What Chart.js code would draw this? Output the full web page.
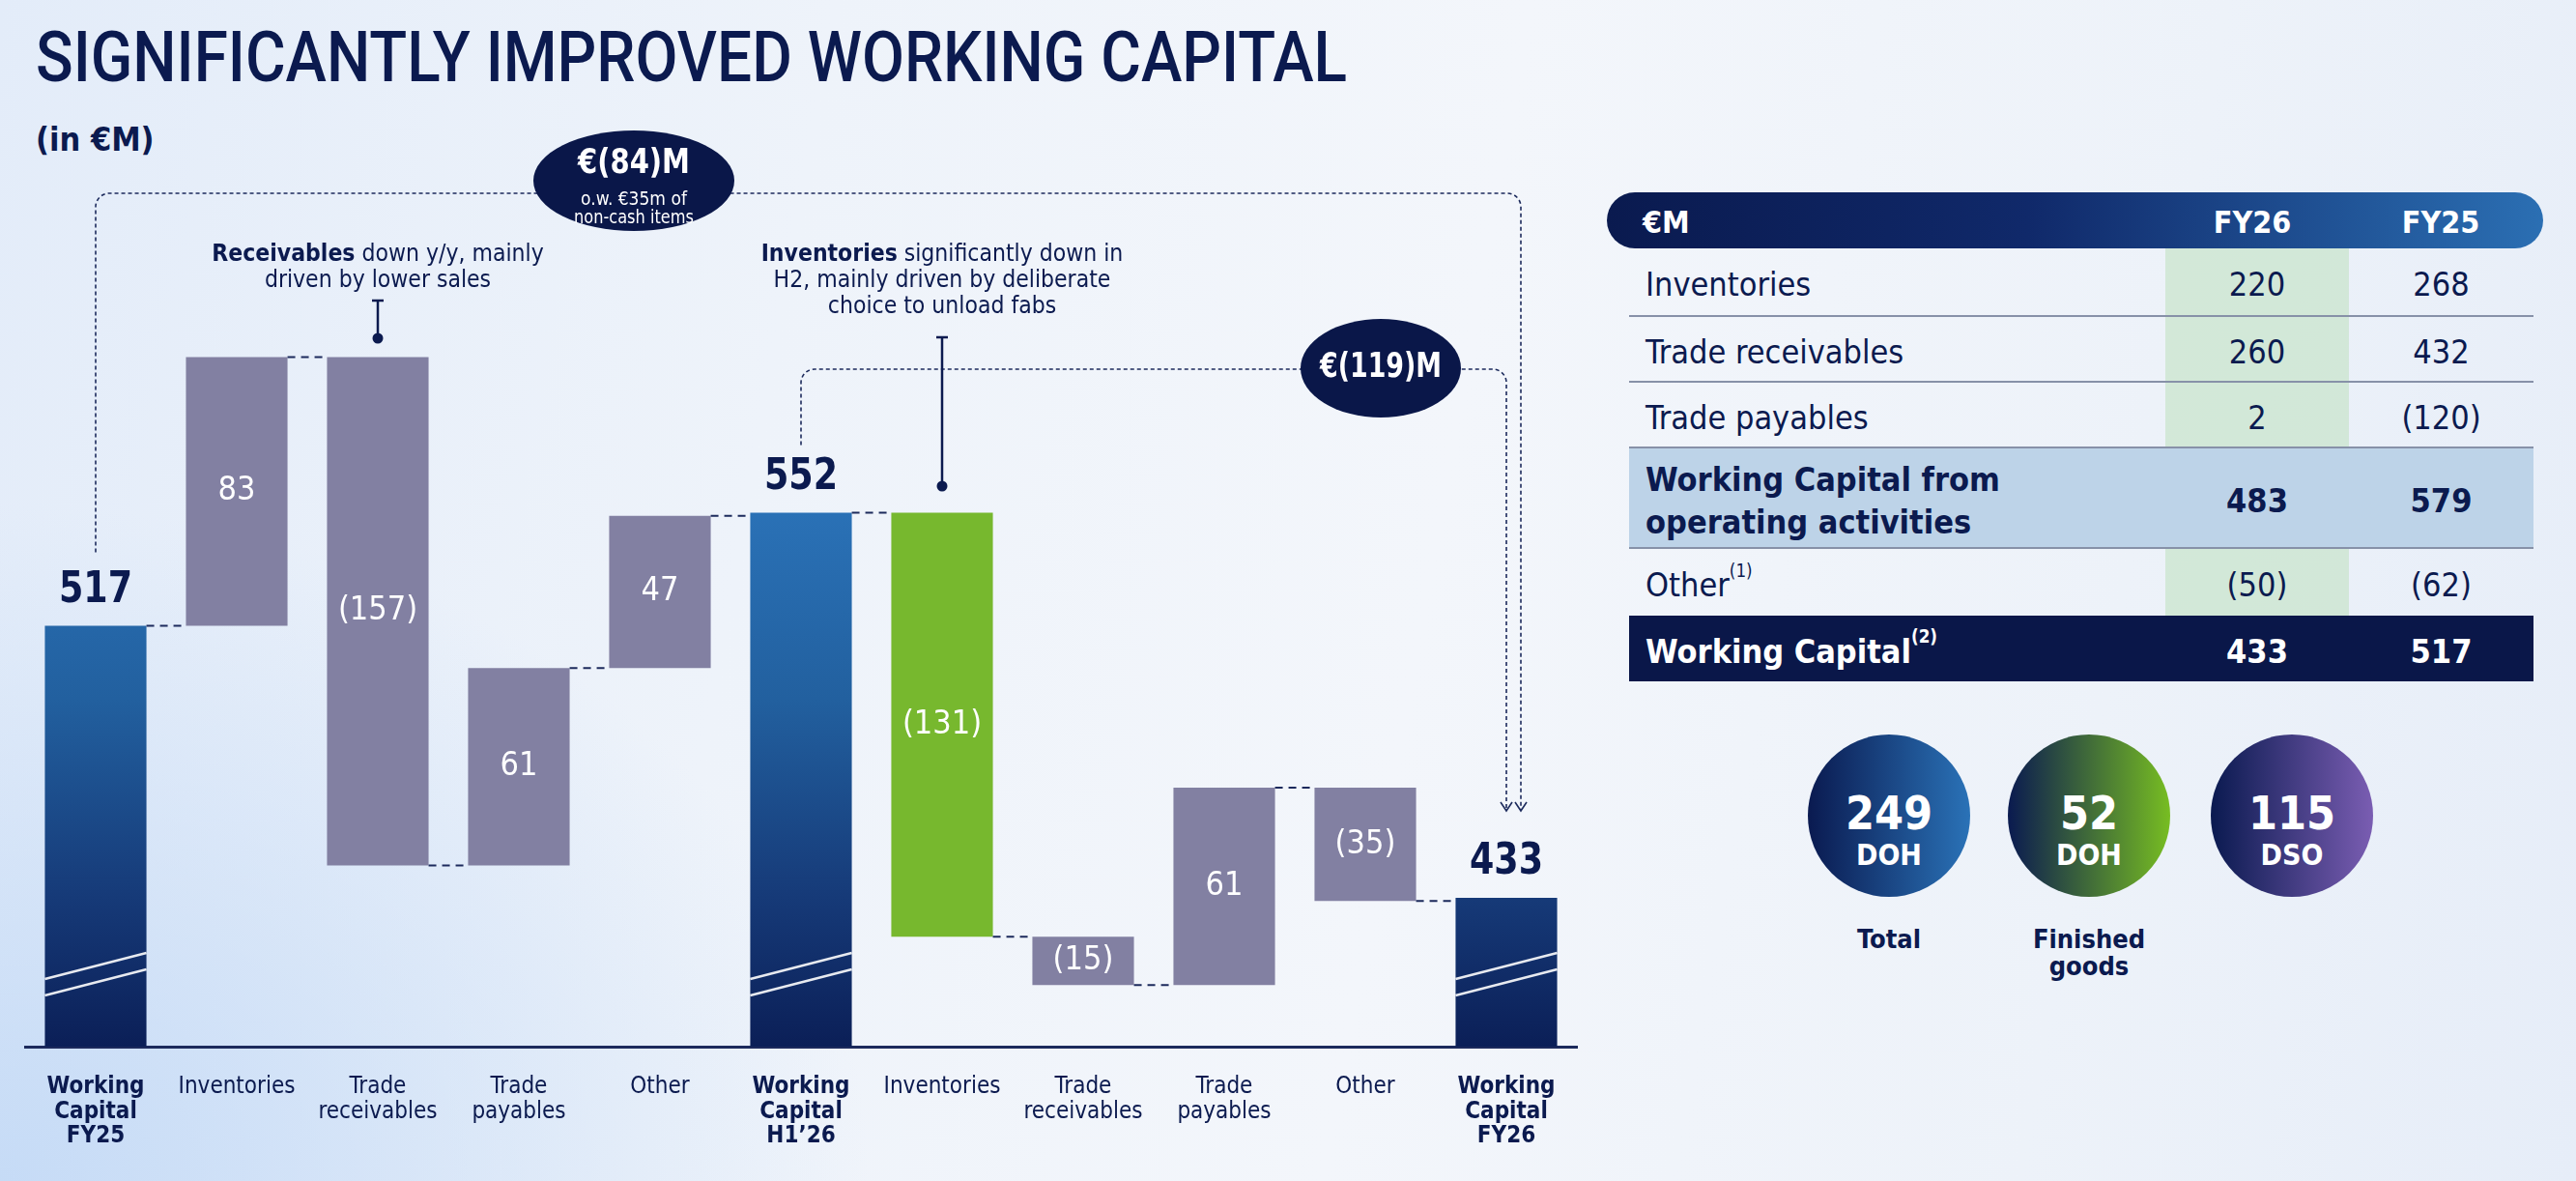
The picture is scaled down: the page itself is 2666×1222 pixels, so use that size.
<!DOCTYPE html>
<html>
<head>
<meta charset="utf-8">
<script src="https://cdn.jsdelivr.net/npm/chart.js@4.4.1/dist/chart.umd.min.js"></script>
<style>
  html, body { margin: 0; padding: 0; }
  body {
    width: 2666px; height: 1222px; overflow: hidden; position: relative;
    font-family: 'DejaVu Sans Condensed', 'DejaVu Sans', sans-serif;
    color: #0b1a4f;
    background:
      radial-gradient(ellipse 900px 700px at 0% 100%, rgba(196,218,246,0.95) 0%, rgba(196,218,246,0) 100%),
      linear-gradient(100deg, #e3ecf9 0%, #eef3fa 30%, #f3f6fb 55%, #edf2f9 80%, #e6edf8 100%);
  }
  #title { position: absolute; left: 37px; top: 24px; font-family: Roboto, sans-serif; font-weight: 500; font-size: 72px; line-height: 72px; white-space: nowrap; transform-origin: 0 0; }
  #subtitle { position: absolute; left: 37px; top: 127px; font-size: 34px; line-height: 34px; font-weight: bold; }
  #chart { position: absolute; left: 0; top: 0; }
  #thead { position: absolute; left: 1663px; top: 199px; width: 969px; height: 58px; border-radius: 29px;
    background: linear-gradient(90deg, #0a1a4f 0%, #10296a 45%, #2b6fb3 100%); color: #fff; }
  #thead div { position: absolute; top: 2px; line-height: 58px; font-size: 32px; font-weight: bold; }
  #tbody { position: absolute; left: 1686px; top: 257px; width: 936px; }
  .row { position: relative; width: 936px; box-sizing: border-box; }
  .row .lab { position: absolute; left: 17px; top: 0; bottom: 0; padding-top: 5px; display: flex; align-items: center; font-size: 34px; line-height: 44px; }
  .row .v { position: absolute; top: 0; bottom: 0; padding-top: 5px; box-sizing: border-box; display: flex; align-items: center; justify-content: center; font-size: 34px; }
  .row sup { font-size: 0.55em; vertical-align: 0; position: relative; top: -0.75em; }
  .kpi { position: absolute; width: 168px; height: 168px; border-radius: 50%; color: #fff; text-align: center; font-weight: bold; }
  .kpi .n { position: absolute; left: 0; right: 0; top: 81px; font-size: 48px; line-height: 48px; transform: translateY(-50%); }
  .kpi .u { position: absolute; left: 0; right: 0; top: 110px; font-size: 30px; line-height: 30px; }
  .kpil { position: absolute; width: 200px; text-align: center; font-weight: bold; font-size: 27px; line-height: 28px; }
</style>
</head>
<body>
<div id="title">SIGNIFICANTLY IMPROVED WORKING CAPITAL</div>
<div id="subtitle">(in €M)</div>
<canvas id="chart" width="1660" height="1222"></canvas>
<div id="thead"></div>
<div id="tbody"></div>
<div id="kpis"></div>
<script>
// ---- data ----
var categories = [
  ['Working', 'Capital', 'FY25'], 'Inventories', ['Trade', 'receivables'], ['Trade', 'payables'], 'Other',
  ['Working', 'Capital', 'H1’26'], 'Inventories', ['Trade', 'receivables'], ['Trade', 'payables'], 'Other',
  ['Working', 'Capital', 'FY26']
];
var isTotal = [true, false, false, false, false, true, false, false, false, false, true];
var values = [517, 83, -157, 61, 47, 552, -131, -15, 61, -35, 433];
var axisMin = 387;
var axisMax = 702;

var tableHeader = ['€M', 'FY26', 'FY25'];
var tableRows = ['Inventories', 'Trade receivables', 'Trade payables', 'Working Capital from<br>operating activities', 'Other<sup>(1)</sup>', 'Working Capital<sup>(2)</sup>'];
var fy26 = ['220', '260', '2', '483', '(50)', '433'];
var fy25 = ['268', '432', '(120)', '579', '(62)', '517'];

var kpiValues = ['249', '52', '115'];
var kpiUnits = ['DOH', 'DOH', 'DSO'];
var kpiLabels = ['Total', 'Finished<br>goods', ''];

// ---- styles ----
var FONT = "'DejaVu Sans Condensed', 'DejaVu Sans', sans-serif";
var NAVY = '#0b1a4f';
var GREY = '#8280a2';
var GREEN = '#77b82e';

// floating ranges for the waterfall
var ranges = [];
var running = 0;
values.forEach(function(v, i) {
  if (isTotal[i]) { ranges.push([axisMin, v]); running = v; }
  else { ranges.push([running, running + v]); running += v; }
});
function fmt(v) { return v < 0 ? '(' + (-v) + ')' : String(v); }

function totalGradient(c) {
  var chart = c.chart, area = chart.chartArea;
  if (!area) return NAVY;
  var top = chart.scales.y.getPixelForValue(Math.max.apply(null, values.filter(function(v, i) { return isTotal[i]; })));
  var g = chart.ctx.createLinearGradient(0, top, 0, area.bottom);
  g.addColorStop(0, '#2a71b6');
  g.addColorStop(0.35, '#22609f');
  g.addColorStop(0.72, '#163a78');
  g.addColorStop(1, '#0b1f57');
  return g;
}

function bracket(ctx, x1, yStart, yTop, x2, yEnd, r) {
  ctx.save();
  ctx.strokeStyle = '#1c2a5c';
  ctx.lineWidth = 1.6;
  ctx.setLineDash([4, 3]);
  ctx.beginPath();
  ctx.moveTo(x1, yStart);
  ctx.lineTo(x1, yTop + r);
  ctx.arcTo(x1, yTop, x1 + r, yTop, r);
  ctx.lineTo(x2 - r, yTop);
  ctx.arcTo(x2, yTop, x2, yTop + r, r);
  ctx.lineTo(x2, yEnd);
  ctx.stroke();
  ctx.setLineDash([]);
  ctx.beginPath();
  ctx.moveTo(x2 - 6, yEnd - 9); ctx.lineTo(x2, yEnd); ctx.lineTo(x2 + 6, yEnd - 9);
  ctx.stroke();
  ctx.restore();
}

function mixedLine(ctx, parts, cx, cy, size) {
  var widths = parts.map(function(p) {
    ctx.font = (p[1] ? 'bold ' : '') + size + 'px ' + FONT;
    return ctx.measureText(p[0]).width;
  });
  var x = cx - widths.reduce(function(a, b) { return a + b; }, 0) / 2;
  parts.forEach(function(p, k) {
    ctx.font = (p[1] ? 'bold ' : '') + size + 'px ' + FONT;
    ctx.fillText(p[0], x, cy);
    x += widths[k];
  });
}

function pin(ctx, x, y1, y2) {
  ctx.save();
  ctx.strokeStyle = NAVY; ctx.fillStyle = NAVY; ctx.lineWidth = 2.5;
  ctx.beginPath(); ctx.moveTo(x, y1); ctx.lineTo(x, y2); ctx.stroke();
  ctx.beginPath(); ctx.moveTo(x - 6, y1); ctx.lineTo(x + 6, y1); ctx.stroke();
  ctx.beginPath(); ctx.arc(x, y2, 5.5, 0, Math.PI * 2); ctx.fill();
  ctx.restore();
}

function ellipseTag(ctx, cx, cy, rx, ry) {
  ctx.save();
  ctx.fillStyle = '#0a1749';
  ctx.beginPath(); ctx.ellipse(cx, cy, rx, ry, 0, 0, Math.PI * 2); ctx.fill();
  ctx.restore();
}

var overlay = {
  id: 'overlay',
  afterDatasetsDraw: function(chart) {
    var ctx = chart.ctx, y = chart.scales.y, area = chart.chartArea;
    var bars = chart.getDatasetMeta(0).data;
    ctx.save();

    // connectors
    ctx.strokeStyle = '#1c2a5c'; ctx.lineWidth = 2; ctx.setLineDash([8, 6]);
    for (var i = 0; i < bars.length - 1; i++) {
      var lvl = y.getPixelForValue(ranges[i][1]);
      ctx.beginPath();
      ctx.moveTo(bars[i].x + bars[i].width / 2, lvl);
      ctx.lineTo(bars[i + 1].x - bars[i + 1].width / 2, lvl);
      ctx.stroke();
    }
    ctx.setLineDash([]);

    ctx.textAlign = 'center'; ctx.textBaseline = 'middle';
    var labelY = [];
    bars.forEach(function(b, i) {
      var top = Math.min(b.y, b.base), bot = Math.max(b.y, b.base);
      var l = b.x - b.width / 2, r = b.x + b.width / 2;
      if (isTotal[i]) {
        // axis break marks
        ctx.strokeStyle = 'rgba(255,255,255,0.9)'; ctx.lineWidth = 2.5;
        [[70, 97], [53, 80]].forEach(function(o) {
          ctx.beginPath(); ctx.moveTo(l, area.bottom - o[0]); ctx.lineTo(r, area.bottom - o[1]); ctx.stroke();
        });
        ctx.fillStyle = NAVY; ctx.font = 'bold 44px ' + FONT;
        labelY[i] = top - 36;
        ctx.fillText(String(values[i]), b.x, labelY[i], 76);
      } else {
        ctx.fillStyle = '#ffffff'; ctx.font = '34px ' + FONT;
        ctx.fillText(fmt(values[i]), b.x, (top + bot) / 2);
      }
    });

    // brackets
    var last = bars.length - 1;
    bracket(ctx, bars[0].x, labelY[0] - 40, 200, bars[last].x + 15, labelY[last] - 54, 14);
    bracket(ctx, bars[5].x, labelY[5] - 34, 382, bars[last].x, labelY[last] - 54, 14);

    ellipseTag(ctx, 656, 187, 104, 52);
    ellipseTag(ctx, 1429, 381, 83, 51);
    ctx.fillStyle = '#ffffff';
    ctx.font = 'bold 36px ' + FONT;
    ctx.fillText('€(84)M', 656, 170, 116);
    ctx.fillText('€(119)M', 1429, 381, 126);
    ctx.font = '19px ' + FONT;
    ctx.fillText('o.w. €35m of', 656, 207, 110);
    ctx.fillText('non-cash items', 656, 226, 124);

    // callouts
    ctx.fillStyle = NAVY; ctx.textAlign = 'left';
    mixedLine(ctx, [['Receivables', true], [' down y/y, mainly', false]], bars[2].x, 264, 24.5);
    mixedLine(ctx, [['driven by lower sales', false]], bars[2].x, 291, 24.5);
    pin(ctx, bars[2].x, 311, 350);
    mixedLine(ctx, [['Inventories', true], [' significantly down in', false]], bars[6].x, 264, 24.5);
    mixedLine(ctx, [['H2, mainly driven by deliberate', false]], bars[6].x, 291, 24.5);
    mixedLine(ctx, [['choice to unload fabs', false]], bars[6].x, 318, 24.5);
    pin(ctx, bars[6].x, 349, 503);

    ctx.restore();
  }
};

var chart = new Chart('chart', {
  type: 'bar',
  data: {
    labels: categories,
    datasets: [{
      data: ranges,
      backgroundColor: function(c) {
        var i = c.dataIndex;
        if (isTotal[i]) return totalGradient(c);
        return i === 6 ? GREEN : GREY;
      },
      borderWidth: 0,
      borderSkipped: false,
      barPercentage: 0.72,
      categoryPercentage: 1
    }]
  },
  options: {
    responsive: false,
    animation: false,
    layout: { padding: { left: 26, right: 28, top: 28, bottom: 0 } },
    plugins: { legend: { display: false }, tooltip: { enabled: false }, title: { display: false } },
    scales: {
      x: {
        grid: { display: false, drawTicks: false },
        border: { display: true, color: '#1c2a5c', width: 3 },
        afterFit: function(s) { s.height = 139; },
        ticks: {
          autoSkip: false, maxRotation: 0, padding: 29, color: NAVY,
          font: function(c) { return { family: FONT, size: 24, lineHeight: 1.07, weight: isTotal[c.index] ? 'bold' : 'normal' }; }
        }
      },
      y: { display: false, min: axisMin, max: axisMax }
    }
  },
  plugins: [overlay]
});

// ---- table ----
var thead = document.getElementById('thead');
[[37, null], [2331, 1663], [2526, 1663]].forEach(function(p, k) {
  var d = document.createElement('div');
  d.innerHTML = tableHeader[k];
  if (k === 0) { d.style.left = p[0] + 'px'; }
  else { d.style.left = (p[0] - p[1] - 60) + 'px'; d.style.width = '120px'; d.style.textAlign = 'center'; }
  thead.appendChild(d);
});
var rowHeights = [71, 68, 68, 104, 69, 68];
var tbody = document.getElementById('tbody');
tableRows.forEach(function(label, i) {
  var row = document.createElement('div');
  row.className = 'row';
  row.style.height = rowHeights[i] + 'px';
  var bold = (i === 3 || i === 5);
  if (i === 3) row.style.background = '#bdd3e8';
  if (i === 5) { row.style.background = '#0a1749'; row.style.color = '#fff'; }
  if (i < 4) row.style.borderBottom = '2px solid #8791a8';
  var lab = document.createElement('div');
  lab.className = 'lab'; lab.innerHTML = label;
  if (bold) lab.style.fontWeight = 'bold';
  row.appendChild(lab);
  [[555, 190, fy26[i]], [745, 191, fy25[i]]].forEach(function(c, k) {
    var v = document.createElement('div');
    v.className = 'v'; v.textContent = c[2];
    v.style.left = c[0] + 'px'; v.style.width = c[1] + 'px';
    if (bold) v.style.fontWeight = 'bold';
    if (k === 0 && !bold) v.style.background = 'rgba(190,224,190,0.55)';
    row.appendChild(v);
  });
  tbody.appendChild(row);
});

// ---- KPI circles ----
var kpiX = [1955, 2162, 2372];
var kpiGrad = [
  'linear-gradient(90deg, #0a1a50 0%, #2a72b7 100%)',
  'linear-gradient(90deg, #0a1a50 0%, #77bd22 100%)',
  'linear-gradient(90deg, #0a1a50 0%, #7a5db2 100%)'
];
var kpis = document.getElementById('kpis');
kpiValues.forEach(function(v, i) {
  var c = document.createElement('div');
  c.className = 'kpi';
  c.style.left = (kpiX[i] - 84) + 'px'; c.style.top = (844 - 84) + 'px';
  c.style.background = kpiGrad[i];
  c.innerHTML = '<div class="n">' + v + '</div><div class="u">' + kpiUnits[i] + '</div>';
  kpis.appendChild(c);
  if (kpiLabels[i]) {
    var l = document.createElement('div');
    l.className = 'kpil';
    l.style.left = (kpiX[i] - 100) + 'px'; l.style.top = '958px';
    l.innerHTML = kpiLabels[i];
    kpis.appendChild(l);
  }
});

// fit title to the reference width
var t = document.getElementById('title');
var w = t.getBoundingClientRect().width;
t.style.transform = 'scaleX(' + (1357 / w) + ')';
</script>
</body>
</html>
